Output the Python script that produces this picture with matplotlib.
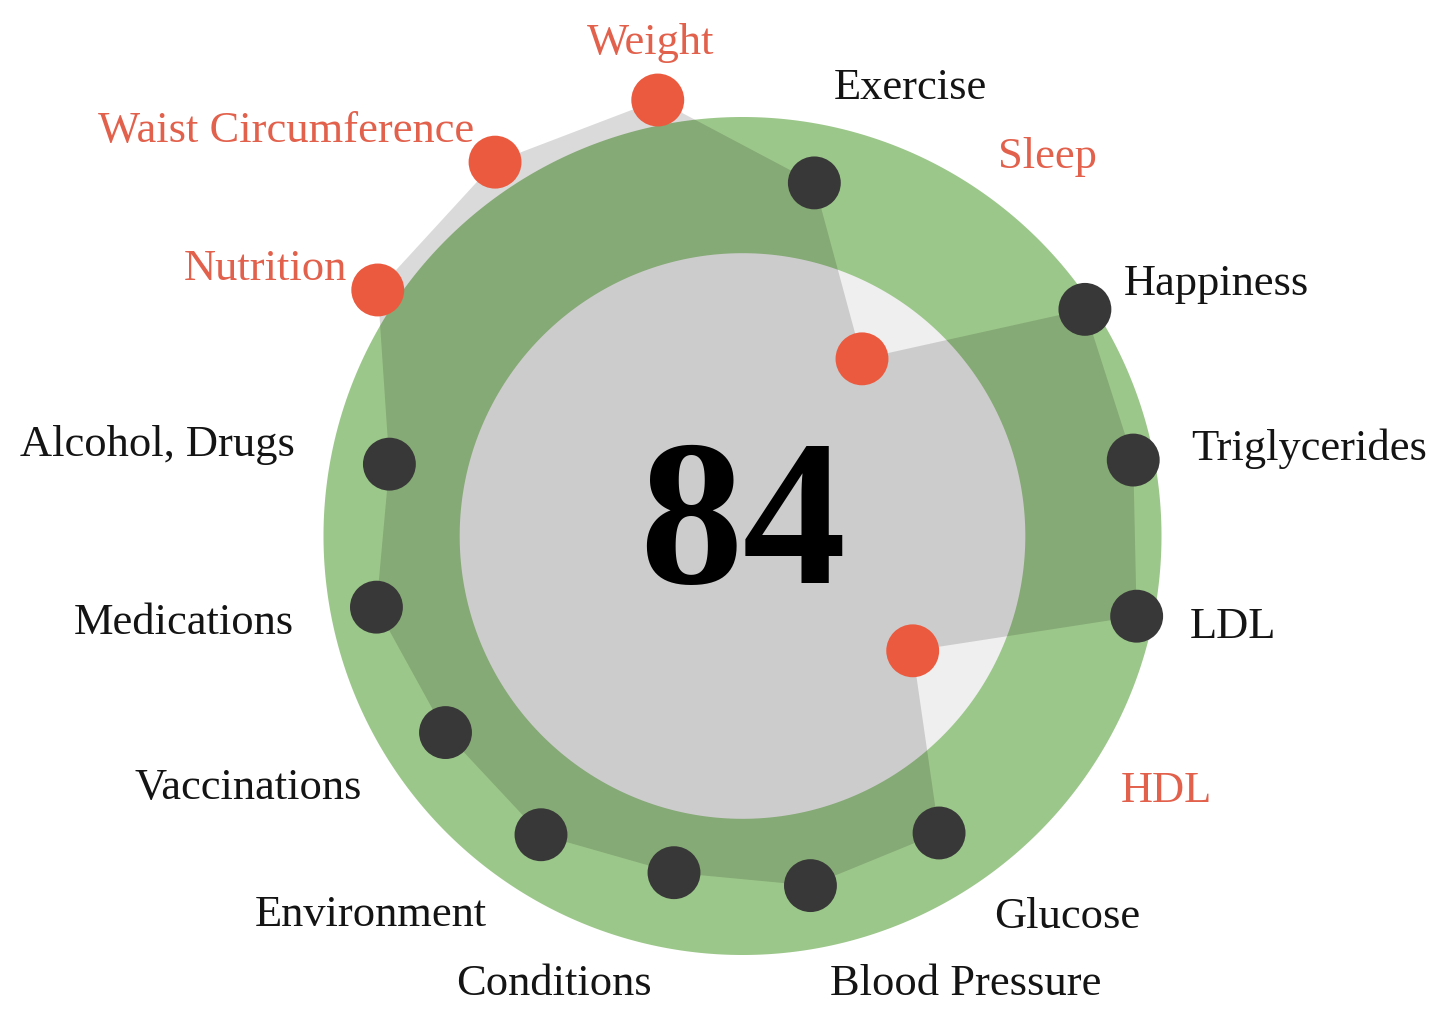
import numpy as np
import matplotlib
matplotlib.use("Agg")
import matplotlib.pyplot as plt

# ---- data ----
categories = ["Weight", "Exercise", "Sleep", "Happiness", "Triglycerides", "LDL",
              "HDL", "Glucose", "Blood Pressure", "Conditions", "Environment",
              "Vaccinations", "Medications", "Alcohol, Drugs", "Nutrition",
              "Waist Circumference"]
scores = [106, 86, 51, 98, 95, 96, 49, 85, 85, 82, 86, 85, 89, 86, 105, 107]
band_low = 67.5      # inner edge of the healthy band
band_high = 100      # outer edge of the healthy band
overall_score = 84

# ---- styling ----
GREEN = "#9CC78A"
INNER = "#EFEFEF"
DOT_OK = "#383838"
DOT_BAD = "#EB5A3E"
TXT_OK = "#141414"
TXT_BAD = "#E2614C"
FONT = ["Liberation Serif", "DejaVu Serif"]

W, H = 1436, 1011
fig = plt.figure(figsize=(W / 100, H / 100), dpi=100)
cx, cy = 742.5, 536          # circle centre in pixels (from top)
rmax = 120
R = 419 * rmax / band_high   # axes radius in pixels
ax = fig.add_axes([(cx - R) / W, (H - cy - R) / H, 2 * R / W, 2 * R / H],
                  projection="polar")
ax.set_theta_zero_location("N")
ax.set_theta_direction(-1)
ax.set_ylim(0, rmax)
ax.set_axis_off()

n = len(categories)
theta = np.deg2rad(-11 + np.arange(n) * 360.0 / n)
circ = np.linspace(0, 2 * np.pi, 721)

ax.fill(circ, np.full_like(circ, band_high), color=GREEN, lw=0, zorder=1)
ax.fill(circ, np.full_like(circ, band_low), color=INNER, lw=0, zorder=2)
ax.fill(np.r_[theta, theta[:1]], np.r_[scores, scores[:1]],
        color="black", alpha=0.145, lw=0, zorder=3)

in_band = [band_low <= v <= band_high for v in scores]
ax.scatter(theta, scores, s=1450, c=[DOT_OK if ok else DOT_BAD for ok in in_band],
           linewidths=0, zorder=4)

for k, (name, t, v, ok) in enumerate(zip(categories, theta, scores, in_band)):
    r_lab = max(v, band_high) + 9
    s = np.sin(t)
    if k == 0:
        ha, va = "center", "bottom"
    else:
        ha = "left" if s > 0 else "right"
        va = "center"
    ax.text(t, r_lab, name, ha=ha, va=va, fontsize=32, family=FONT,
            color=TXT_OK if ok else TXT_BAD, zorder=5)

ax.annotate(str(overall_score), xy=(0, 0), xytext=(0, -34), textcoords="offset points",
            ha="center", va="baseline", fontsize=149, fontweight="bold",
            family=FONT, color="black", zorder=6)

fig.savefig("out.png", dpi=100)
